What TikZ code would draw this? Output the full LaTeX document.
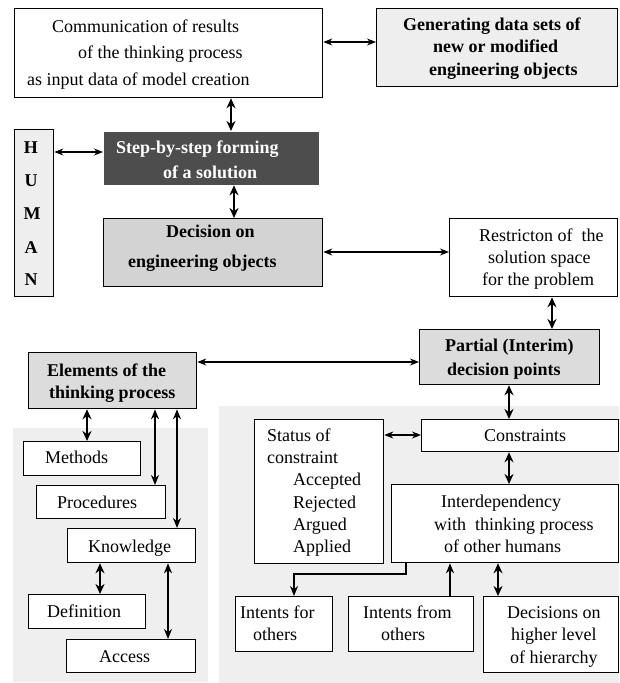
\documentclass[tikz,border=0pt]{standalone}
\usepackage{fontspec}
\setmainfont{Liberation Serif}
\usetikzlibrary{arrows.meta}
\definecolor{panel}{RGB}{239,239,239}
\definecolor{lightf}{RGB}{238,238,238}
\definecolor{midf}{RGB}{220,220,220}
\definecolor{decf}{RGB}{211,211,211}
\definecolor{darkf}{RGB}{77,77,77}
\tikzset{
 box/.style={draw, line width=1.3pt, inner sep=0pt, anchor=north west},
 t/.style={anchor=base west, inner sep=0pt, font=\fontsize{18}{22}\selectfont},
 tb/.style={anchor=base west, inner sep=0pt, font=\fontsize{18}{22}\selectfont\bfseries},
 thinar/.style={{Stealth[length=9pt,width=7pt]}-{Stealth[length=9pt,width=7pt]}, line width=1.1pt},
 medar/.style={{Stealth[length=10pt,width=8pt]}-{Stealth[length=10pt,width=8pt]}, line width=1.6pt},
 thickar/.style={{Stealth[length=10pt,width=9pt]}-{Stealth[length=10pt,width=9pt]}, line width=2.2pt},
 onear/.style={-{Stealth[length=10pt,width=8pt]}, line width=1.8pt},
}
\begin{document}
\begin{tikzpicture}[x=1pt,y=-1pt]
\useasboundingbox[fill=white] (0,0) rectangle (619,683);
% panels
\fill[panel] (13,428) rectangle (208,682);
\fill[panel] (219,406) rectangle (619,683);
% top boxes
\node[box, minimum width=308, minimum height=89] (comm) at (14,8) {};
\node[t] (c1) at (52,32) {Communication of results};
\node[t] (c2) at (78,58) {of the thinking process};
\node[t] (c3) at (27,85) {as input data of model creation};
\node[box, fill=lightf, minimum width=241, minimum height=78] (gen) at (376,8) {};
\node[tb] (g1) at (403,30) {Generating data sets of};
\node[tb] (g2) at (433,52) {new or modified};
\node[tb] (g3) at (429,75) {engineering objects};
% HUMAN
\node[box, fill=lightf, minimum width=39, minimum height=167] (human) at (14,129) {};
\node[tb, anchor=base] (hH) at (31,153) {H};
\node[tb, anchor=base] (hU) at (31,186) {U};
\node[tb, anchor=base] (hM) at (32,219) {M};
\node[tb, anchor=base] (hA) at (31,253) {A};
\node[tb, anchor=base] (hN) at (31,285) {N};
% step
\node[box, draw=none, fill=darkf, minimum width=215, minimum height=53] (step) at (103,131) {};
\node[tb, text=white] (s1) at (116,153) {Step-by-step forming};
\node[tb, text=white] (s2) at (163,178) {of a solution};
% decision
\node[box, fill=decf, minimum width=219, minimum height=68] (dec) at (103,218) {};
\node[tb] (d1) at (166,237) {Decision on};
\node[tb] (d2) at (128,267) {engineering objects};
% restriction
\node[box, minimum width=168, minimum height=78] (restr) at (449,218) {};
\node[t] (r1) at (479,241) {Restricton of\ \ the};
\node[t] (r2) at (488,263) {solution space};
\node[t] (r3) at (482,285) {for the problem};
% elements
\node[box, fill=midf, minimum width=168, minimum height=56] (elem) at (28,352) {};
\node[tb] (e1) at (47,376) {Elements of the};
\node[tb] (e2) at (49,398) {thinking process};
% partial
\node[box, fill=midf, minimum width=180, minimum height=55] (part) at (419,329) {};
\node[tb] (p1) at (445,351) {Partial (Interim)};
\node[tb] (p2) at (447,375) {decision points};
% left column
\node[box, fill=white, minimum width=117, minimum height=34] (meth) at (23,441) {};
\node[t] (mt) at (45,463) {Methods};
\node[box, fill=white, minimum width=129, minimum height=33] (proc) at (36,485) {};
\node[t] (pt) at (57,508) {Procedures};
\node[box, fill=white, minimum width=128, minimum height=34] (know) at (67,528) {};
\node[t] (kt) at (88,552) {Knowledge};
\node[box, fill=white, minimum width=117, minimum height=34] (defn) at (28,594) {};
\node[t] (dt) at (47,617) {Definition};
\node[box, fill=white, minimum width=129, minimum height=33] (acc) at (66,639) {};
\node[t] (at1) at (99,662) {Access};
% right column
\node[box, fill=white, minimum width=197, minimum height=32] (cons) at (421,419) {};
\node[t] (ct) at (484,441) {Constraints};
\node[box, fill=white, minimum width=129, minimum height=144] (stat) at (254,419) {};
\node[t] (st1) at (267,441) {Status of};
\node[t] (st2) at (267,463) {constraint};
\node[t] (st3) at (293,485) {Accepted};
\node[t] (st4) at (293,508) {Rejected};
\node[t] (st5) at (293,530) {Argued};
\node[t] (st6) at (293,552) {Applied};
\node[box, fill=white, minimum width=227, minimum height=78] (inter) at (391,484) {};
\node[t] (i1) at (441,507) {Interdependency};
\node[t] (i2) at (434,530) {with\ \ thinking process};
\node[t] (i3) at (444,552) {of other humans};
\node[box, fill=white, minimum width=97, minimum height=55] (ifor) at (235,596) {};
\node[t] (f1) at (240,618) {Intents for};
\node[t] (f2) at (253,640) {others};
\node[box, fill=white, minimum width=125, minimum height=55] (ifrom) at (348,596) {};
\node[t] (fr1) at (363,618) {Intents from};
\node[t] (fr2) at (381,640) {others};
\node[box, fill=white, minimum width=135, minimum height=76] (dhi) at (483,596) {};
\node[t] (h1) at (507,618) {Decisions on};
\node[t] (h2) at (511,640) {higher level};
\node[t] (h3) at (510,663) {of hierarchy};
% connectors
\draw[thinar] (comm.east |- 0,42) -- (gen.west |- 0,42);
\draw[thickar] (comm.south -| 231,0) -- (step.north -| 231,0);
\draw[thinar] (human.east |- 0,152) -- (step.west |- 0,152);
\draw[thickar] (step.south -| 234,0) -- (dec.north -| 234,0);
\draw[thinar] (dec.east |- 0,252) -- (restr.west |- 0,252);
\draw[thickar] (restr.south -| 552,0) -- (part.north -| 552,0);
\draw[thinar] (elem.east |- 0,362) -- (part.west |- 0,362);
\draw[thickar] (part.south -| 509,0) -- (cons.north -| 509,0);
\draw[thinar] (stat.east |- 0,435) -- (cons.west |- 0,435);
\draw[thickar] (cons.south -| 509,0) -- (inter.north -| 509,0);
\draw[thickar] (elem.south -| 87,0) -- (meth.north -| 87,0);
\draw[medar] (elem.south -| 155,0) -- (proc.north -| 155,0);
\draw[medar] (elem.south -| 177,0) -- (know.north -| 177,0);
\draw[thickar] (know.south -| 100,0) -- (defn.north -| 100,0);
\draw[medar] (know.south -| 168,0) -- (acc.north -| 168,0);
\draw[onear] (inter.south -| 406,0) -- ++(0,11) -| (ifor.north -| 294,0);
\draw[onear] (ifrom.north -| 450,0) -- (inter.south -| 450,0);
\draw[thickar] (inter.south -| 498,0) -- (dhi.north -| 498,0);
\end{tikzpicture}
\end{document}
